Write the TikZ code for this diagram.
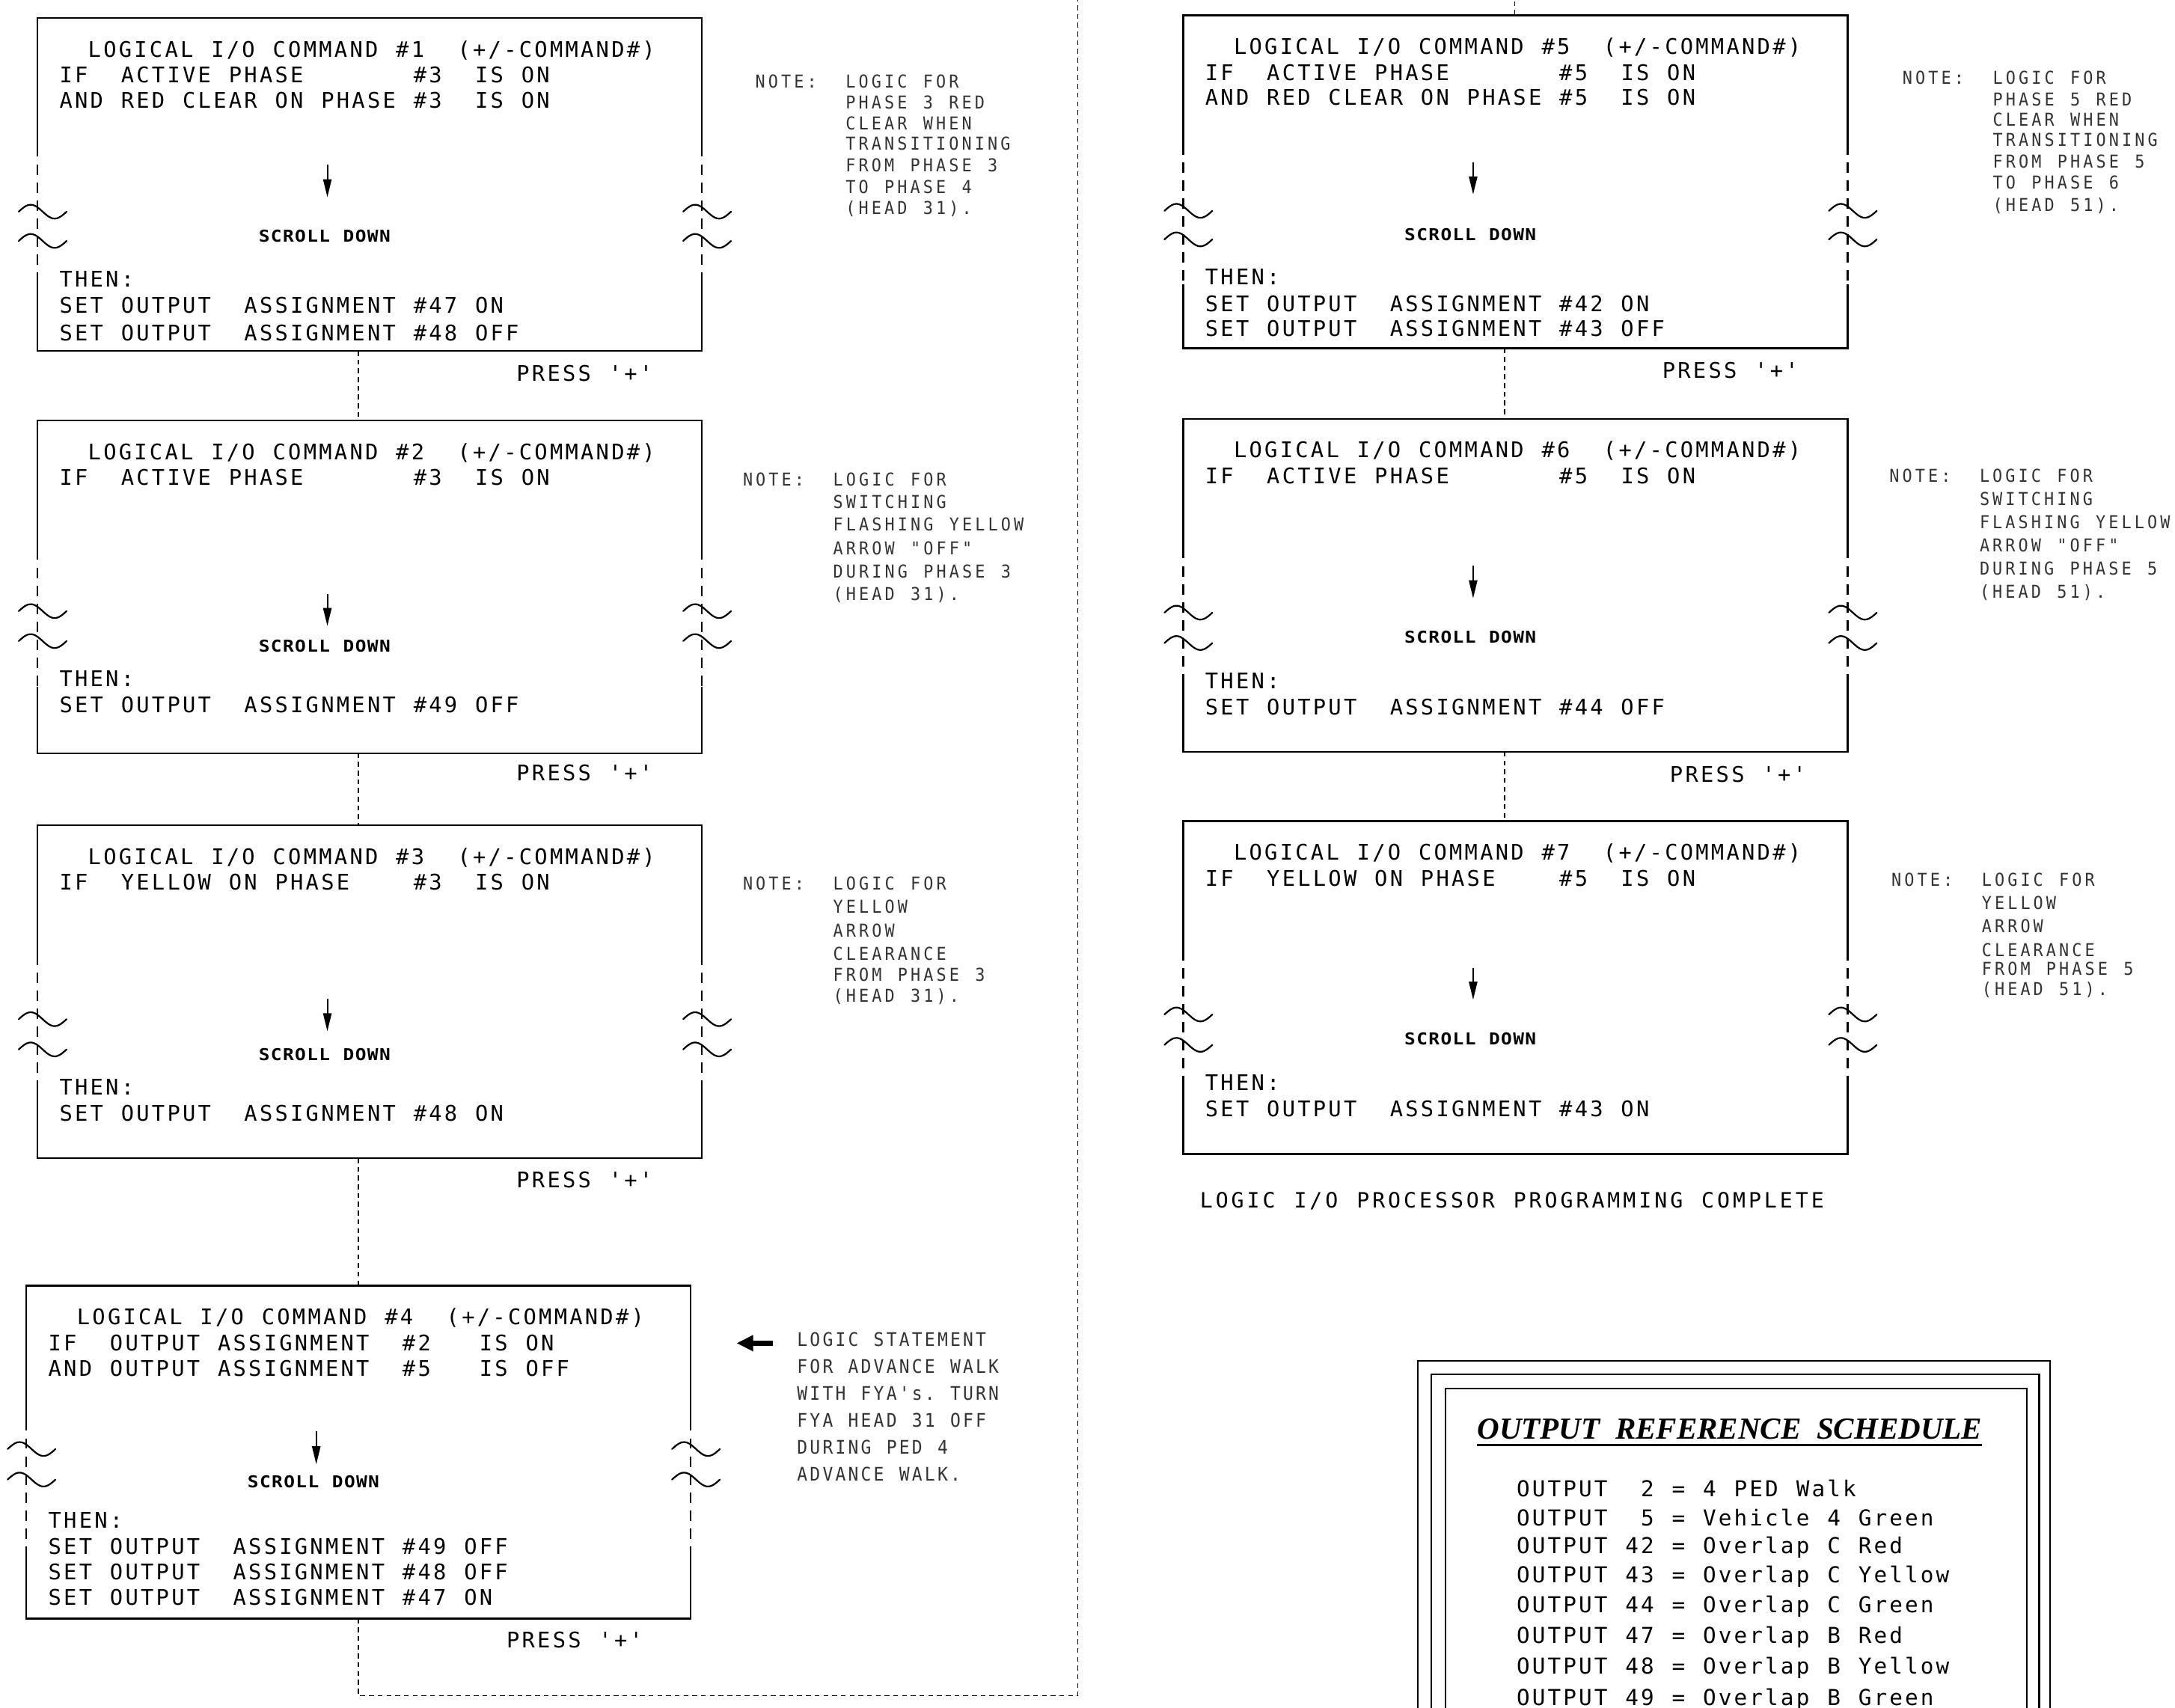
\documentclass[tikz,border=0pt]{standalone}
\usepackage{fontspec}
\usetikzlibrary{calc,arrows.meta}
\newfontfamily\cadfam{DejaVu Sans Mono}
\newfontfamily\notefam{DejaVu Sans Mono}[FakeStretch=0.92]
\newfontfamily\cadboldfam{DejaVu Sans Mono}[FakeStretch=1.12]
\newfontfamily\titlefam{Liberation Serif}
\newlength\cadw
\def\cadloop#1{\ifx#1\relax\else\ifx#1~\hbox to\cadw{\hss}\else\hbox to\cadw{\hss#1\hss}\fi\expandafter\cadloop\fi}
\newcommand\cad[1]{\cadloop#1\relax}
\tikzset{
  cmdbox/.style={draw=none, inner sep=0pt, outer sep=0pt, minimum width=479pt, minimum height=240pt, anchor=north west},
  frameline/.style={line width=1.25pt, line join=miter},
  framedash/.style={line width=1.2pt, dash pattern=on 7.5pt off 5.5pt, dash phase=7.5pt},
  brkline/.style={line width=1.2pt, line cap=round},
  conn/.style={line width=0.9pt, dash pattern=on 3.5pt off 2.8pt},
  scrollarr/.style={line width=1.1pt, -{Triangle[length=13pt,width=6pt]}},
  maintxt/.style={anchor=base west, inner sep=0pt, outer sep=0pt, font={\cadfam\fontsize{15.5}{18}\selectfont\setlength{\cadw}{11.1pt}}},
  notetxt/.style={anchor=base west, inner sep=0pt, outer sep=0pt, text=black!80, font={\notefam\fontsize{12.8}{15}\selectfont\setlength{\cadw}{9.3pt}}},
  note4txt/.style={notetxt, font={\notefam\fontsize{13.5}{15}\selectfont\setlength{\cadw}{9.2pt}}},
  scrolltxt/.style={anchor=base, inner sep=0pt, outer sep=0pt, font={\cadboldfam\bfseries\fontsize{11.8}{14}\selectfont\setlength{\cadw}{8.7pt}}},
  schedtxt/.style={anchor=base west, inner sep=0pt, outer sep=0pt, font={\cadfam\fontsize{15.8}{18}\selectfont\setlength{\cadw}{11.2pt}}},
  finaltxt/.style={anchor=base west, inner sep=0pt, outer sep=0pt, font={\cadfam\fontsize{15.2}{18}\selectfont\setlength{\cadw}{11.3pt}}},
  brk/.pic={\draw[brkline] plot[domain=0:1, samples=40, smooth] ({-13.5+34.5*\x},{-5*sin(360*\x)});}
}
\newcommand\cmdframe[5]{%
  \draw[frameline] ($(#1.north west)+(0,#2)$) -- (#1.north west) -- (#1.north east) -- ($(#1.north east)+(0,#2)$);
  \draw[frameline] ($(#1.north west)+(0,#3)$) -- (#1.south west) -- (#1.south east) -- ($(#1.north east)+(0,#3)$);
  \draw[framedash] ($(#1.north west)+(0,#2)$) -- ($(#1.north west)+(0,#3)$);
  \draw[framedash] ($(#1.north east)+(0,#2)$) -- ($(#1.north east)+(0,#3)$);
  \pic at ($(#1.north west)+(0,#4)$) {brk};
  \pic at ($(#1.north west)+(0,#5)$) {brk};
  \pic at ($(#1.north east)+(0,#4)$) {brk};
  \pic at ($(#1.north east)+(0,#5)$) {brk};
}
\newcommand\btxt[4]{\node[maintxt] (#1) at ($(#2.north west)+(#3)$) {\cad{#4}};}
\newcommand\scrl[3]{\node[scrolltxt] (#1) at ($(#2.north west)+(#3)$) {\cad{SCROLL~DOWN}};}
\newcommand\sarr[3]{\draw[scrollarr] ($(#1.north west)+(209,#2)$) -- ($(#1.north west)+(209,#3)$);}
\newcommand\press[3]{\node[maintxt] (#1) at ($(#2.south west)+(#3)$) {\cad{PRESS~'+'}};}
\newcommand\nline[4]{\node[notetxt] (#1) at (#2,#3) {\cad{#4}};}
\begin{document}
\begin{tikzpicture}[x=1pt,y=-1pt]
\useasboundingbox (0,0) rectangle (1568,1231);
\clip (0,0) rectangle (1568,1231);
\fill[white] (0,0) rectangle (1568,1231);

% command boxes
\node[cmdbox] (b1) at (27,13) {};
\node[cmdbox] (b2) at (27,303) {};
\node[cmdbox] (b3) at (27,595) {};
\node[cmdbox] (b4) at (19,927) {};
\node[cmdbox] (b5) at (853,11) {};
\node[cmdbox] (b6) at (853,302) {};
\node[cmdbox] (b7) at (853,592) {};
\cmdframe{b1}{100}{191}{139.6}{160.7}
\cmdframe{b2}{100.7}{192}{137.6}{159.2}
\cmdframe{b3}{100.6}{190}{139.8}{161.6}
\cmdframe{b4}{104.5}{190.5}{117.7}{139.7}
\cmdframe{b5}{100.4}{194}{141}{161.6}
\cmdframe{b6}{100.6}{190}{139.7}{161.6}
\cmdframe{b7}{100.3}{190}{139.4}{161.3}

% connectors
\coordinate (lx) at (258.5,0);
\coordinate (rx) at (1084.8,0);
\coordinate (tx) at (1092,0);
\coordinate (loopbot) at (777,1222.5);
\coordinate (looptop) at (777,-40);
\draw[conn] (b1.south -| lx) -- (b2.north -| lx);
\draw[conn] (b2.south -| lx) -- (b3.north -| lx);
\draw[conn] (b3.south -| lx) -- (b4.north -| lx);
\draw[conn] (b4.south -| lx) -- (lx |- loopbot) -- (loopbot) -- (looptop) -- (tx |- looptop) -- (b5.north -| tx);
\draw[conn] (b5.south -| rx) -- (b6.north -| rx);
\draw[conn] (b6.south -| rx) -- (b7.north -| rx);

% box 1
\btxt{b1t}{b1}{35.6,28.4}{LOGICAL~I/O~COMMAND~\#1~~(+/-COMMAND\#)}
\btxt{b1i}{b1}{15,46.7}{IF~~ACTIVE~PHASE~~~~~~~\#3~~IS~ON}
\btxt{b1a}{b1}{15,65.2}{AND~RED~CLEAR~ON~PHASE~\#3~~IS~ON}
\sarr{b1}{105.5}{129.2}
\scrl{b1s}{b1}{207,161.6}
\btxt{b1h}{b1}{15,193.9}{THEN:}
\btxt{b1o}{b1}{15,212.7}{SET~OUTPUT~~ASSIGNMENT~\#47~ON}
\btxt{b1p}{b1}{15,232.5}{SET~OUTPUT~~ASSIGNMENT~\#48~OFF}
\press{b1r}{b1}{344.5,22}

% box 2
\btxt{b2t}{b2}{35.6,28.4}{LOGICAL~I/O~COMMAND~\#2~~(+/-COMMAND\#)}
\btxt{b2i}{b2}{15,46.7}{IF~~ACTIVE~PHASE~~~~~~~\#3~~IS~ON}
\sarr{b2}{125}{148.3}
\scrl{b2s}{b2}{207,167.1}
\btxt{b2h}{b2}{15,191.7}{THEN:}
\btxt{b2o}{b2}{15,210.6}{SET~OUTPUT~~ASSIGNMENT~\#49~OFF}
\press{b2r}{b2}{344.5,20}

% box 3
\btxt{b3t}{b3}{35.6,28}{LOGICAL~I/O~COMMAND~\#3~~(+/-COMMAND\#)}
\btxt{b3i}{b3}{15,46.5}{IF~~YELLOW~ON~PHASE~~~~\#3~~IS~ON}
\sarr{b3}{125.2}{148.5}
\scrl{b3s}{b3}{207,169.8}
\btxt{b3h}{b3}{15,194.4}{THEN:}
\btxt{b3o}{b3}{15,213.5}{SET~OUTPUT~~ASSIGNMENT~\#48~ON}
\press{b3r}{b3}{344.5,21}

% box 4
\btxt{b4t}{b4}{35.6,28}{LOGICAL~I/O~COMMAND~\#4~~(+/-COMMAND\#)}
\btxt{b4i}{b4}{15,47}{IF~~OUTPUT~ASSIGNMENT~~\#2~~~IS~ON}
\btxt{b4a}{b4}{15,65.4}{AND~OUTPUT~ASSIGNMENT~~\#5~~~IS~OFF}
\sarr{b4}{105}{128.7}
\scrl{b4s}{b4}{207,145.6}
\btxt{b4h}{b4}{15,174.6}{THEN:}
\btxt{b4o}{b4}{15,193.5}{SET~OUTPUT~~ASSIGNMENT~\#49~OFF}
\btxt{b4p}{b4}{15,212}{SET~OUTPUT~~ASSIGNMENT~\#48~OFF}
\btxt{b4q}{b4}{15,230.4}{SET~OUTPUT~~ASSIGNMENT~\#47~ON}
\press{b4r}{b4}{345.3,21}

% box 5
\btxt{b5t}{b5}{35.6,28.1}{LOGICAL~I/O~COMMAND~\#5~~(+/-COMMAND\#)}
\btxt{b5i}{b5}{15,46.8}{IF~~ACTIVE~PHASE~~~~~~~\#5~~IS~ON}
\btxt{b5a}{b5}{15,64.8}{AND~RED~CLEAR~ON~PHASE~\#5~~IS~ON}
\sarr{b5}{105.8}{129.2}
\scrl{b5s}{b5}{207,162.5}
\btxt{b5h}{b5}{15,194}{THEN:}
\btxt{b5o}{b5}{15,213.8}{SET~OUTPUT~~ASSIGNMENT~\#42~ON}
\btxt{b5p}{b5}{15,231.5}{SET~OUTPUT~~ASSIGNMENT~\#43~OFF}
\press{b5r}{b5}{344.5,21.6}

% box 6
\btxt{b6t}{b6}{35.6,28}{LOGICAL~I/O~COMMAND~\#6~~(+/-COMMAND\#)}
\btxt{b6i}{b6}{15,46.8}{IF~~ACTIVE~PHASE~~~~~~~\#5~~IS~ON}
\sarr{b6}{106}{129.4}
\scrl{b6s}{b6}{207,161.6}
\btxt{b6h}{b6}{15,194.4}{THEN:}
\btxt{b6o}{b6}{15,213.2}{SET~OUTPUT~~ASSIGNMENT~\#44~OFF}
\press{b6r}{b6}{350,22}

% box 7
\btxt{b7t}{b7}{35.6,28.2}{LOGICAL~I/O~COMMAND~\#7~~(+/-COMMAND\#)}
\btxt{b7i}{b7}{15,46.8}{IF~~YELLOW~ON~PHASE~~~~\#5~~IS~ON}
\sarr{b7}{105.7}{128.8}
\scrl{b7s}{b7}{207,161.3}
\btxt{b7h}{b7}{15,194.1}{THEN:}
\btxt{b7o}{b7}{15,213.2}{SET~OUTPUT~~ASSIGNMENT~\#43~ON}

% notes
\nline{n1}{543.5}{63.3}{NOTE:}
\nline{n1a}{608.6}{63.3}{LOGIC~FOR}
\nline{n1b}{608.6}{78.7}{PHASE~3~RED}
\nline{n1c}{608.6}{93.5}{CLEAR~WHEN}
\nline{n1d}{608.6}{108}{TRANSITIONING}
\nline{n1e}{608.6}{123.7}{FROM~PHASE~3}
\nline{n1f}{608.6}{139.3}{TO~PHASE~4}
\nline{n1g}{608.6}{154.6}{(HEAD~31).}

\nline{n2}{534.5}{350.3}{NOTE:}
\nline{n2a}{599.6}{350.3}{LOGIC~FOR}
\nline{n2b}{599.6}{366.5}{SWITCHING}
\nline{n2c}{599.6}{382.5}{FLASHING~YELLOW}
\nline{n2d}{599.6}{399.8}{ARROW~"OFF"}
\nline{n2e}{599.6}{416.5}{DURING~PHASE~3}
\nline{n2f}{599.6}{433}{(HEAD~31).}

\nline{n3}{534.5}{641.8}{NOTE:}
\nline{n3a}{599.6}{641.8}{LOGIC~FOR}
\nline{n3b}{599.6}{658.4}{YELLOW}
\nline{n3c}{599.6}{675.5}{ARROW}
\nline{n3d}{599.6}{692.2}{CLEARANCE}
\nline{n3e}{599.6}{707.5}{FROM~PHASE~3}
\nline{n3f}{599.6}{722.3}{(HEAD~31).}

\nline{n5}{1370.5}{60.7}{NOTE:}
\nline{n5a}{1435.6}{60.7}{LOGIC~FOR}
\nline{n5b}{1435.6}{76.2}{PHASE~5~RED}
\nline{n5c}{1435.6}{90.8}{CLEAR~WHEN}
\nline{n5d}{1435.6}{105.5}{TRANSITIONING}
\nline{n5e}{1435.6}{120.9}{FROM~PHASE~5}
\nline{n5f}{1435.6}{136.4}{TO~PHASE~6}
\nline{n5g}{1435.6}{152.5}{(HEAD~51).}

\nline{n6}{1361}{347.9}{NOTE:}
\nline{n6a}{1426.1}{347.9}{LOGIC~FOR}
\nline{n6b}{1426.1}{364.4}{SWITCHING}
\nline{n6c}{1426.1}{380.9}{FLASHING~YELLOW}
\nline{n6d}{1426.1}{398}{ARROW~"OFF"}
\nline{n6e}{1426.1}{414.6}{DURING~PHASE~5}
\nline{n6f}{1426.1}{431.2}{(HEAD~51).}

\nline{n7}{1362.5}{638.8}{NOTE:}
\nline{n7a}{1427.6}{638.8}{LOGIC~FOR}
\nline{n7b}{1427.6}{655.4}{YELLOW}
\nline{n7c}{1427.6}{672.4}{ARROW}
\nline{n7d}{1427.6}{689.4}{CLEARANCE}
\nline{n7e}{1427.6}{703}{FROM~PHASE~5}
\nline{n7f}{1427.6}{717.4}{(HEAD~51).}

% note for command 4
\coordinate (la1) at (557,968.4);
\coordinate (la2) at (531,968.4);
\draw[line width=4pt, -{Triangle[length=12pt,width=11pt]}] (la1) -- (la2);
\node[note4txt] (n4a) at (573.8,970.5) {\cad{LOGIC~STATEMENT}};
\node[note4txt] (n4b) at (573.8,989.8) {\cad{FOR~ADVANCE~WALK}};
\node[note4txt] (n4c) at (573.8,1009.2) {\cad{WITH~FYA's.~TURN}};
\node[note4txt] (n4d) at (573.8,1028.8) {\cad{FYA~HEAD~31~OFF}};
\node[note4txt] (n4e) at (573.8,1048.1) {\cad{DURING~PED~4}};
\node[note4txt] (n4f) at (573.8,1067.6) {\cad{ADVANCE~WALK.}};

% completion text
\node[finaltxt] (done) at (864,871) {\cad{LOGIC~I/O~PROCESSOR~PROGRAMMING~COMPLETE}};

% output reference schedule
\draw[frameline] (1022,1240) -- (1022,981) -- (1478,981) -- (1478,1240);
\draw[frameline] (1032,1240) -- (1032,991) -- (1470,991) -- (1470,1240);
\draw[frameline] (1042,1240) -- (1042,1001) -- (1461,1001) -- (1461,1240);
\node[anchor=base west, inner sep=0pt, outer sep=0pt] (schedtitle) at (1065,1037.4)
  {\resizebox{364pt}{14.6pt}{\titlefam\bfseries\itshape OUTPUT\ \ REFERENCE\ \ SCHEDULE}};
\draw[line width=1.6pt] ($(schedtitle.base west)+(0,4.5)$) -- ($(schedtitle.base east)+(0,4.5)$);
\node[schedtxt] (s1) at (1092.5,1079) {\cad{OUTPUT~~2~=~4~PED~Walk}};
\node[schedtxt] (s2) at (1092.5,1099.8) {\cad{OUTPUT~~5~=~Vehicle~4~Green}};
\node[schedtxt] (s3) at (1092.5,1120) {\cad{OUTPUT~42~=~Overlap~C~Red}};
\node[schedtxt] (s4) at (1092.5,1140.8) {\cad{OUTPUT~43~=~Overlap~C~Yellow}};
\node[schedtxt] (s5) at (1092.5,1162.5) {\cad{OUTPUT~44~=~Overlap~C~Green}};
\node[schedtxt] (s6) at (1092.5,1184.8) {\cad{OUTPUT~47~=~Overlap~B~Red}};
\node[schedtxt] (s7) at (1092.5,1207) {\cad{OUTPUT~48~=~Overlap~B~Yellow}};
\node[schedtxt] (s8) at (1092.5,1229.3) {\cad{OUTPUT~49~=~Overlap~B~Green}};
\end{tikzpicture}
\end{document}
